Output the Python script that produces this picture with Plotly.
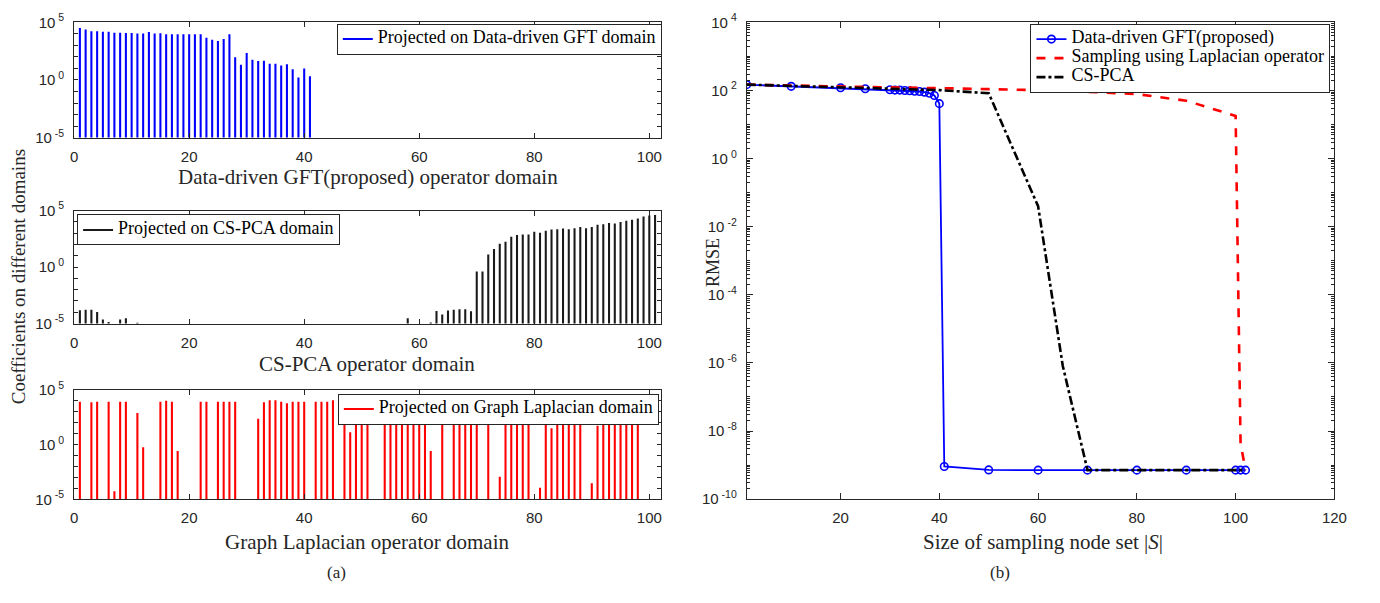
import plotly.graph_objects as go

# ---------------- data ----------------
# (a) top: coefficients projected on Data-driven GFT domain
gft_idx = list(range(1, 42))
gft_coef = [3.3e4, 2.4e4, 1.66e4, 1.66e4, 1.55e4, 1.55e4, 1.26e4, 1.26e4, 1.2e4, 1.2e4,
            1.05e4, 1.05e4, 1.45e4, 1.05e4, 1.12e4, 9.1e3, 9.1e3, 9.1e3, 9.1e3, 9.1e3,
            9.1e3, 9.1e3, 4.6e3, 3.1e3, 2.4e3, 3.5e3, 9.1e3, 93, 21, 220,
            56, 44, 47, 26, 26, 18, 23, 8.7, 1.6, 9.8, 2.1]

# (a) middle: coefficients projected on CS-PCA domain
pca_idx = [1, 2, 3, 4, 5, 6, 8, 9, 11, 58, 62, 63, 64, 65, 66, 67, 68, 69,
           70, 71, 72, 73, 74, 75, 76, 77, 78, 79, 80, 81, 82, 83, 84, 85, 86, 87,
           88, 89, 90, 91, 92, 93, 94, 95, 96, 97, 98, 99, 100, 101]
pca_coef = [1.5e-4, 1.7e-4, 1.7e-4, 1.07e-4, 2.3e-5, 1.4e-5, 2.3e-5, 2.9e-5, 1.15e-5,
            3.0e-5, 1.26e-5, 1.3e-4, 6.3e-5, 1.4e-4, 1.66e-4, 1.8e-4, 1.8e-4, 1.2e-4,
            0.4, 0.4, 12.9, 39, 112, 174, 468, 692, 741, 741, 1350, 1100, 1620, 2090,
            2240, 2570, 2240, 2750, 3550, 2750, 3550, 5620, 6030, 7760, 7240, 9550,
            12300, 15100, 19500, 28800, 35500, 39800]

# (a) bottom: coefficients projected on Graph Laplacian domain
lap_idx = [1, 3, 4, 6, 7, 8, 9, 11, 12, 15, 16, 17, 18, 22, 23, 25, 26, 27, 28,
           32, 33, 34, 35, 36, 37, 38, 39, 40, 42, 43, 44, 45, 47, 48, 49, 50, 51,
           54, 55, 56, 57, 58, 59, 60, 61, 62, 64, 66, 67, 68, 69, 70, 72, 74, 75,
           76, 77, 78, 79, 81, 82, 83, 84, 85, 86, 87, 88, 90, 91, 92, 93, 94, 95,
           96, 97, 98]
lap_coef = [8100, 7100, 8100, 8100, 5.5e-5, 8100, 8100, 760, 0.58, 8100, 1.0e4, 8100, 0.26,
            8100, 8100, 8100, 8100, 8100, 8100,
            224, 7100, 1.07e4, 1.07e4, 8100, 5750, 8100, 8100, 8100, 8100, 8100, 8100, 1.07e4,
            5750, 13, 8000, 8000, 8000,
            8000, 8000, 8000, 8000, 8000, 8000, 8000, 8000, 0.26, 8000, 8000, 8000, 8000,
            8000, 8000, 8000, 1.15e-3, 8000,
            8000, 8000, 8000, 8000, 1.15e-4, 8000, 30, 8000, 8000, 8000, 8000, 8000,
            2.95e-4, 51, 8000, 8000, 8000, 8000,
            8000, 8000, 8000]

# (b) RMSE vs size of sampling node set
gft_n = [1, 10, 20, 25, 30, 31, 32, 33, 34, 35, 36, 37, 38, 39, 40, 41, 50, 60, 70, 80, 90, 100, 101, 102]
gft_rmse = [148, 132, 120, 112, 105, 102, 102, 100, 98, 95, 93, 89, 83, 71, 41,
            9.1e-10, 7.2e-10, 7.1e-10, 7.1e-10, 7.1e-10, 7.1e-10, 7.1e-10, 7.1e-10, 7.1e-10]
lap_n = [1, 10, 20, 30, 40, 50, 60, 70, 80, 90, 100, 101, 102]
lap_rmse = [148, 138, 129, 123, 117, 112, 102, 91, 78, 50, 17.8, 4.3e-9, 7.1e-10]
pca_n = [1, 10, 20, 30, 40, 50, 60, 65, 70, 80, 90, 100, 101, 102]
pca_rmse = [148, 135, 123, 112, 102, 83, 0.04, 8.1e-7, 7.1e-10, 7.1e-10, 7.1e-10, 7.1e-10, 7.1e-10, 7.1e-10]

left_xticks = [0, 20, 40, 60, 80, 100]
left_ydecades = [-5, -4, -3, -2, -1, 0, 1, 2, 3, 4, 5]
left_ylabeled = [-5, 0, 5]
right_xticks = [20, 40, 60, 80, 100, 120]
right_ydecades = list(range(-10, 5))
right_ylabeled = [-10, -8, -6, -4, -2, 0, 2, 4]

# ---------------- figure ----------------
W, H = 1380, 603
AX = "#262626"
SERIF = "Liberation Serif"
SANS = "Liberation Sans"


def px(v):
    return v / W


def py(v):
    return 1 - v / H


def exp_label(e):
    return "10<sup>\u00a0%d</sup>" % e


def leg_name(s, size=18):
    return "<span style='font-size:%dpx'>%s</span>" % (size, s)


fig = go.Figure()

bar_w = 0.36
fig.add_trace(go.Bar(x=gft_idx, y=gft_coef, width=bar_w, marker=dict(color="#0000FF", line=dict(width=0)),
                     showlegend=False, xaxis="x", yaxis="y"))
fig.add_trace(go.Scatter(x=[None], y=[None], mode="lines", line=dict(color="#0000FF", width=2),
                         name=leg_name("Projected on Data-driven GFT domain"), legend="legend",
                         xaxis="x", yaxis="y"))
fig.add_trace(go.Bar(x=pca_idx, y=pca_coef, width=bar_w, marker=dict(color="#1a1a1a", line=dict(width=0)),
                     showlegend=False, xaxis="x2", yaxis="y2"))
fig.add_trace(go.Scatter(x=[None], y=[None], mode="lines", line=dict(color="#1a1a1a", width=2),
                         name=leg_name("Projected on CS-PCA domain"), legend="legend2",
                         xaxis="x2", yaxis="y2"))
fig.add_trace(go.Bar(x=lap_idx, y=lap_coef, width=bar_w, marker=dict(color="#FF0000", line=dict(width=0)),
                     showlegend=False, xaxis="x3", yaxis="y3"))
fig.add_trace(go.Scatter(x=[None], y=[None], mode="lines", line=dict(color="#FF0000", width=2),
                         name=leg_name("Projected on Graph Laplacian domain"), legend="legend3",
                         xaxis="x3", yaxis="y3"))

fig.add_trace(go.Scatter(x=gft_n, y=gft_rmse, mode="lines+markers", name=leg_name("Data-driven GFT(proposed)"),
                         line=dict(color="#0000FF", width=1.8),
                         marker=dict(symbol="circle-open", size=7.5, color="#0000FF", line=dict(width=1.6)),
                         legend="legend4", xaxis="x4", yaxis="y4"))
fig.add_trace(go.Scatter(x=lap_n, y=lap_rmse, mode="lines", name=leg_name("Sampling using Laplacian operator"),
                         line=dict(color="#FF0000", width=2.6, dash="dash"),
                         legend="legend4", xaxis="x4", yaxis="y4"))
fig.add_trace(go.Scatter(x=pca_n, y=pca_rmse, mode="lines", name=leg_name("CS-PCA"),
                         line=dict(color="#000000", width=2.6, dash="dashdot"),
                         legend="legend4", xaxis="x4", yaxis="y4"))

base_axis = dict(showline=True, linecolor=AX, linewidth=1, mirror="ticks", ticks="inside",
                 tickcolor=AX, tickwidth=1, showgrid=False, zeroline=False,
                 tickfont=dict(family=SANS, size=15, color=AX))

left_dom_x = [px(71), px(665)]
panels = [(11.7, 130.7), (206, 322.7), (391, 504.3)]
layout = dict(width=W, height=H, margin=dict(l=0, r=0, t=0, b=0),
              paper_bgcolor="white", plot_bgcolor="white", barmode="overlay")

for i, (top, bot) in enumerate(panels):
    sfx = "" if i == 0 else str(i + 1)
    layout["xaxis" + sfx] = dict(base_axis, domain=left_dom_x, range=[0, 102], tickvals=left_xticks,
                                 ticklen=5, anchor="y" + sfx, ticklabelstandoff=5)
    layout["yaxis" + sfx] = dict(base_axis, domain=[py(bot), py(top)], type="log", range=[-5, 5],
                                 tickvals=[10.0 ** e for e in left_ylabeled],
                                 ticktext=[exp_label(e) for e in left_ylabeled],
                                 ticklen=4, anchor="x" + sfx, ticklabelstandoff=6,
                                 minor=dict(tickvals=[10.0 ** e for e in left_ydecades if e not in left_ylabeled],
                                            ticks="inside", ticklen=4, tickcolor=AX, tickwidth=1))

minor_vals = [k * 10.0 ** e for e in right_ydecades[:-1] for k in range(1, 10)
              if not (k == 1 and e in right_ylabeled)]
layout["xaxis4"] = dict(base_axis, domain=[px(752), px(1347)], range=[1, 120], tickvals=right_xticks,
                        ticklen=6, anchor="y4", ticklabelstandoff=5)
layout["yaxis4"] = dict(base_axis, domain=[py(504), py(11.7)], type="log", range=[-10, 4],
                        tickvals=[10.0 ** e for e in right_ylabeled],
                        ticktext=[exp_label(e) for e in right_ylabeled],
                        ticklen=6, anchor="x4", ticklabelstandoff=6,
                        minor=dict(tickvals=minor_vals, ticks="inside", ticklen=3, tickcolor=AX, tickwidth=1))

leg_base = dict(bgcolor="white", bordercolor=AX, borderwidth=1, itemwidth=30,
                font=dict(family=SERIF, size=10, color="black"), tracegroupgap=0)
layout["legend"] = dict(leg_base, x=px(666), y=py(13), xanchor="right", yanchor="top")
layout["legend2"] = dict(leg_base, x=px(74), y=py(210), xanchor="left", yanchor="top")
layout["legend3"] = dict(leg_base, x=px(663), y=py(395), xanchor="right", yanchor="top")
layout["legend4"] = dict(leg_base, x=px(1343), y=py(13), xanchor="right", yanchor="top",
                         font=dict(family=SERIF, size=11, color="black"))

ann = []


def add_text(text, x, y, size, angle=0):
    ann.append(dict(text=text, x=px(x), y=py(y), xref="paper", yref="paper", showarrow=False,
                    xanchor="center", yanchor="middle", textangle=angle,
                    font=dict(family=SERIF, size=size, color=AX)))


add_text("Data-driven GFT(proposed) operator domain", 369, 171, 21)
add_text("CS-PCA operator domain", 368, 365, 21)
add_text("Graph Laplacian operator domain", 368, 548, 21)
add_text("Coefficients on different domains", 15, 274, 19, -90)
add_text("RMSE", 718, 260, 18, -90)
add_text("Size of sampling node set |<i>S</i>|", 1052, 548, 21)
add_text("(a)", 337, 580, 17)
add_text("(b)", 1008, 580, 17)
layout["annotations"] = ann

fig.update_layout(**layout)
fig.write_html("out.html")
